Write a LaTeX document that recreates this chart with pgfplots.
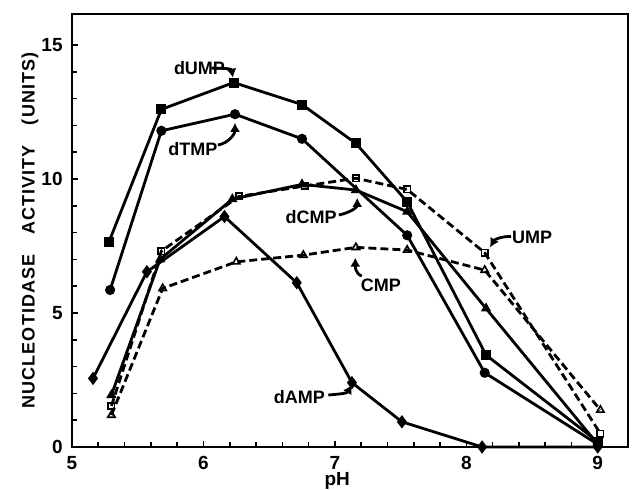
\documentclass[border=0pt]{standalone}
\usepackage{fontspec}
\setmainfont{Liberation Sans}
\usepackage{pgfplots}
\pgfplotsset{compat=1.18}
\usetikzlibrary{arrows.meta}

\newfontfamily\spacedfont[LetterSpace=6]{Liberation Sans}

\begin{document}
\begin{tikzpicture}
\begin{axis}[
    scale only axis,
    width=278pt, height=216.5pt,
    xmin=5, xmax=9.23,
    ymin=0, ymax=16.16,
    xtick={5,6,7,8,9},
    ytick={0,5,10,15},
    minor x tick num=4,
    minor y tick num=4,
    tick align=inside,
    xtick pos=bottom, ytick pos=left,
    major tick length=3pt, minor tick length=2.5pt,
    every tick/.style={black, line width=0.8pt},
    axis line style={line width=1.3pt},
    /pgf/number format/assume math mode=true,
    ticklabel style={font=\bfseries\fontsize{9.5}{10}\selectfont},
    xticklabel style={inner sep=0pt, yshift=-4.3pt},
    yticklabel style={inner sep=0pt, xshift=-4.5pt},
    xlabel={pH},
    xlabel style={at={(axis description cs:0.477,0)}, anchor=north, inner sep=0pt,
        yshift=-12.3pt, font=\bfseries\fontsize{9.5}{10}\selectfont},
    ylabel={\spacedfont\bfseries NUCLEOTIDASE\hspace{10pt}ACTIVITY\hspace{10pt}(UNITS)},
    ylabel style={at={(axis description cs:-0.0755,0.5)}, anchor=center, inner sep=0pt,
        font=\fontsize{9}{10}\selectfont},
    clip=false,
    every axis plot/.append style={line width=1.4pt, black},
]
% dUMP
\addplot[mark=square*, mark size=1.8pt, mark options={solid}] coordinates {
(5.28,7.64) (5.68,12.6) (6.23,13.6) (6.75,12.78) (7.16,11.33) (7.55,9.15) (8.15,3.43) (9.0,0.2)};
% dTMP
\addplot[mark=*, mark size=1.8pt, mark options={solid}] coordinates {
(5.29,5.86) (5.68,11.8) (6.24,12.42) (6.75,11.5) (7.55,7.9) (8.14,2.77) (9.0,0.1)};
% dCMP
\addplot[mark=triangle*, mark size=1.6pt, mark options={solid}] coordinates {
(5.3,1.94) (5.67,7.0) (6.22,9.25) (6.75,9.8) (7.16,9.59) (7.55,8.78) (8.15,5.17) (9.0,0.1)};
% dAMP
\addplot[mark=diamond*, mark size=2.2pt, mark options={solid}] coordinates {
(5.16,2.56) (5.57,6.54) (6.16,8.6) (6.71,6.13) (7.13,2.4) (7.51,0.94) (8.12,0) (9.0,0)};
% UMP
\addplot[dash pattern=on 4pt off 2pt, mark=square, mark size=1.6pt,
    mark options={solid, fill=white, line width=0.8pt}] coordinates {
(5.3,1.53) (5.68,7.31) (6.27,9.35) (6.77,9.74) (7.16,10.03) (7.55,9.61) (8.14,7.25) (9.02,0.5)};
% CMP
\addplot[dash pattern=on 4pt off 2pt, mark=triangle, mark size=2.1pt,
    mark options={solid, fill=white, line width=0.8pt}] coordinates {
(5.3,1.19) (5.69,5.92) (6.25,6.91) (6.76,7.16) (7.16,7.45) (7.55,7.35) (8.14,6.6) (9.02,1.38)};

% labels and arrows
\tikzset{lab/.style={font=\bfseries\fontsize{9}{10}\selectfont, inner sep=0pt},
         arr/.style={line width=1.4pt, -{Latex[length=4.5pt,width=5pt]}}}
\node[lab] at (axis cs:5.97,14.14) {dUMP};
\draw[arr] (axis cs:6.06,14.14) to[out=0,in=100] (axis cs:6.225,13.78);
\node[lab] at (axis cs:5.92,11.12) {dTMP};
\draw[arr] (axis cs:6.11,11.27) to[out=10,in=-90] (axis cs:6.24,12.1);
\node[lab] at (axis cs:6.82,8.58) {dCMP};
\draw[arr] (axis cs:7.03,8.66) to[out=10,in=-90] (axis cs:7.17,9.3);
\node[lab] at (axis cs:8.50,7.84) {UMP};
\draw[arr] (axis cs:8.34,7.86) to[out=180,in=60] (axis cs:8.18,7.45);
\node[lab] at (axis cs:7.35,6.04) {CMP};
\draw[arr] (axis cs:7.205,6.38) to[out=160,in=-90] (axis cs:7.155,7.07);
\node[lab] at (axis cs:6.73,1.87) {dAMP};
\draw[arr] (axis cs:6.95,1.94) to[out=5,in=-120] (axis cs:7.13,2.32);
\end{axis}
\pgfresetboundingbox
\path[use as bounding box] ([shift={(-36pt,-21.5pt)}]current axis.south west)
    rectangle ([shift={(2.5pt,7pt)}]current axis.north east);
\end{tikzpicture}
\end{document}
